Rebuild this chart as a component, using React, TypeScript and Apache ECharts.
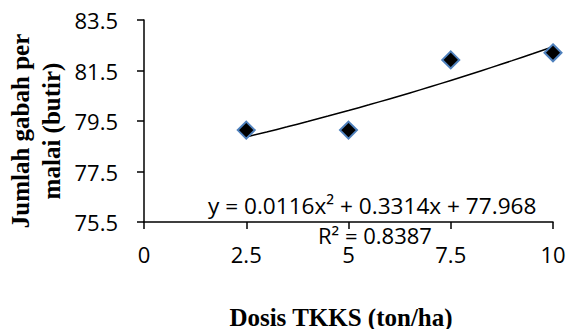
import React, { useEffect, useRef } from "react";
import * as echarts from "echarts";

const doses = [2.5, 5, 7.5, 10];
const grainCounts = [79.14, 79.14, 81.92, 82.2];
const trendCoefficients = [0.0116, 0.3314, 77.968]; // a, b, c of y = a x^2 + b x + c
const trendXs = [2.5, 3, 3.5, 4, 4.5, 5, 5.5, 6, 6.5, 7, 7.5, 8, 8.5, 9, 9.5, 10];
const equationText = "y = 0.0116x² + 0.3314x + 77.968";
const r2Text = "R² = 0.8387";
const xTitle = "Dosis TKKS (ton/ha)";
const yTitleLines = ["Jumlah gabah per", "malai (butir)"];

export default function App() {
  const ref = useRef<HTMLDivElement>(null);
  useEffect(() => {
    if (!ref.current) return;
    const chart = echarts.init(ref.current, null, { renderer: "svg" });
    const [a, b, c] = trendCoefficients;
    const trend = trendXs.map((x) => [x, a * x * x + b * x + c]);
    const tickFont = { fontFamily: "Open Sans", fontSize: 22, color: "#000" };
    chart.setOption({
      animation: false,
      grid: { left: 144, right: 16, top: 20, bottom: 107 },
      xAxis: {
        type: "value",
        min: 0,
        max: 10,
        interval: 2.5,
        splitLine: { show: false },
        axisLine: { show: true, onZero: false, lineStyle: { color: "#000", width: 1.5 } },
        axisTick: { show: true, length: 7, lineStyle: { color: "#000", width: 1.5 } },
        axisLabel: { ...tickFont, margin: 21 },
      },
      yAxis: {
        type: "value",
        min: 75.5,
        max: 83.5,
        interval: 2,
        splitLine: { show: false },
        axisLine: { show: true, lineStyle: { color: "#000", width: 1.5 } },
        axisTick: { show: true, length: 7, lineStyle: { color: "#000", width: 1.5 } },
        axisLabel: { ...tickFont, margin: 26, formatter: (v: number) => v.toFixed(1) },
      },
      series: [
        {
          type: "line",
          data: trend,
          showSymbol: false,
          symbol: "none",
          smooth: true,
          lineStyle: { color: "#000", width: 1.5 },
          z: 2,
        },
        {
          type: "scatter",
          data: doses.map((d, i) => [d, grainCounts[i]]),
          symbol: "diamond",
          symbolSize: 17,
          itemStyle: { color: "#000", borderColor: "#4f81bd", borderWidth: 2, opacity: 1 },
          z: 3,
        },
      ],
      graphic: [
        {
          type: "text",
          x: 208,
          y: 205,
          style: {
            text: equationText,
            fontFamily: "Open Sans",
            fontSize: 22.6,
            lineHeight: 16,
            fill: "#000",
            align: "left",
            verticalAlign: "middle",
          },
          z: 10,
        },
        {
          type: "text",
          x: 318,
          y: 235,
          style: {
            text: r2Text,
            fontFamily: "Open Sans",
            fontSize: 22,
            lineHeight: 14,
            fill: "#000",
            align: "left",
            verticalAlign: "middle",
          },
          z: 10,
        },
        {
          type: "text",
          x: 341,
          y: 317,
          style: {
            text: xTitle,
            fontFamily: "Liberation Serif",
            fontWeight: "bold",
            fontSize: 25,
            fill: "#000",
            align: "center",
            verticalAlign: "middle",
          },
        },
        {
          type: "text",
          x: 36,
          y: 131,
          rotation: Math.PI / 2,
          style: {
            text: yTitleLines.join("\n"),
            fontFamily: "Liberation Serif",
            fontWeight: "bold",
            fontSize: 25,
            lineHeight: 31,
            fill: "#000",
            align: "center",
            verticalAlign: "middle",
          },
        },
      ],
    });
    return () => chart.dispose();
  }, []);
  return (
    <div
      ref={ref}
      style={{ position: "fixed", left: 0, top: 0, width: 569, height: 329, background: "#fff" }}
    />
  );
}
